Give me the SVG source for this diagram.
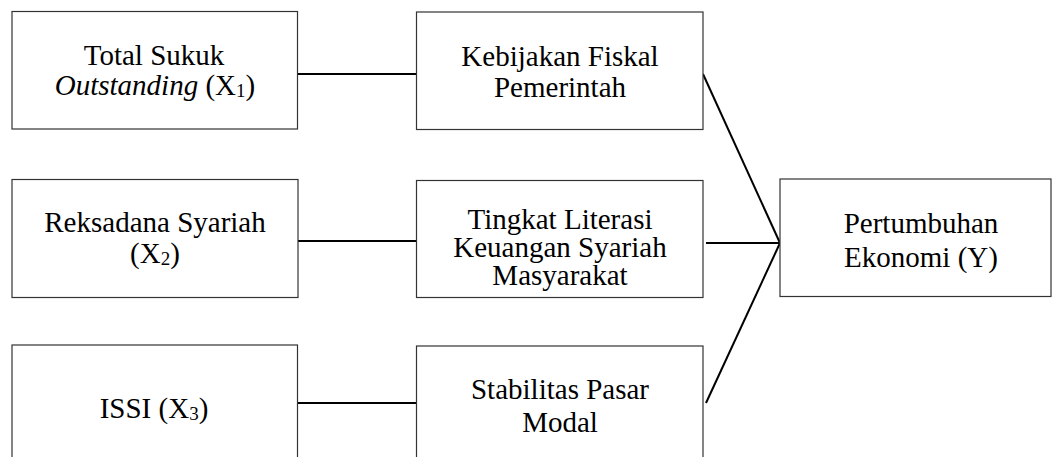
<svg xmlns="http://www.w3.org/2000/svg" width="1057" height="457" viewBox="0 0 1057 457">
<style>
.box{fill:#fff;stroke:#333;stroke-width:1.2}
.t{font-family:"Liberation Serif","Times New Roman",serif;font-size:29px;fill:#000;text-anchor:middle}
.c{stroke:#000;stroke-width:2;fill:none}
</style>
<rect width="1057" height="457" fill="#fff"/>
<g id="connectors">
<line class="c" x1="297" y1="74" x2="417" y2="74"/>
<line class="c" x1="298" y1="241" x2="417" y2="241"/>
<line class="c" x1="297" y1="403" x2="417" y2="403"/>
<line class="c" x1="703" y1="74" x2="780" y2="243"/>
<line class="c" x1="706" y1="243" x2="780" y2="243"/>
<line class="c" x1="706" y1="403" x2="780" y2="243"/>
</g>
<g id="x1">
<rect class="box" x="12" y="11.5" width="285.5" height="117.5"/>
<text class="t" x="154" y="65">Total Sukuk</text>
<text class="t" x="155" y="95"><tspan font-style="italic">Outstanding</tspan> (X<tspan font-size="19" dy="2">1</tspan><tspan dy="-2">)</tspan></text>
</g>
<g id="kebijakan">
<rect class="box" x="416.5" y="12" width="286.5" height="117.5"/>
<text class="t" x="560" y="66">Kebijakan Fiskal</text>
<text class="t" x="560" y="97">Pemerintah</text>
</g>
<g id="x2">
<rect class="box" x="12" y="179.5" width="286" height="118"/>
<text class="t" x="155" y="231.5">Reksadana Syariah</text>
<text class="t" x="155" y="263">(X<tspan font-size="19" dy="2">2</tspan><tspan dy="-2">)</tspan></text>
</g>
<g id="literasi">
<rect class="box" x="416.5" y="180.5" width="286.5" height="117"/>
<text class="t" x="560" y="228.5">Tingkat Literasi</text>
<text class="t" x="560" y="256.5">Keuangan Syariah</text>
<text class="t" x="560" y="285">Masyarakat</text>
</g>
<g id="y">
<rect class="box" x="780" y="179" width="271" height="117.5"/>
<text class="t" x="921" y="232.5">Pertumbuhan</text>
<text class="t" x="921" y="267">Ekonomi (Y)</text>
</g>
<g id="x3">
<rect class="box" x="12" y="345" width="285.5" height="130"/>
<text class="t" x="154" y="418">ISSI (X<tspan font-size="19" dy="2">3</tspan><tspan dy="-2">)</tspan></text>
</g>
<g id="stabilitas">
<rect class="box" x="416.5" y="346" width="286.5" height="130"/>
<text class="t" x="560" y="398.5">Stabilitas Pasar</text>
<text class="t" x="560" y="431.5">Modal</text>
</g>
</svg>
